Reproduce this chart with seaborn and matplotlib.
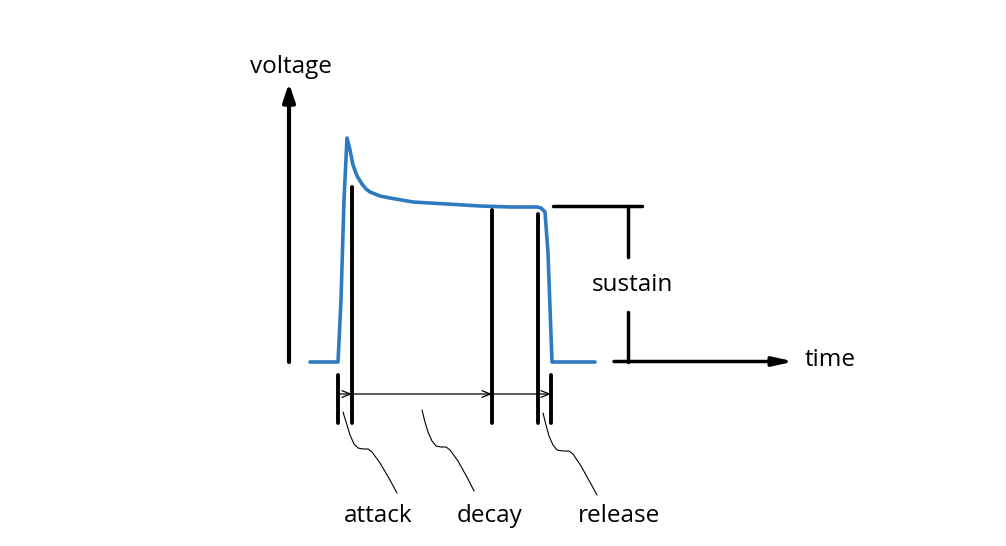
import matplotlib
matplotlib.use("Agg")
import matplotlib.pyplot as plt
import seaborn as sns
import pandas as pd

sns.set_theme(style="white")
plt.rcParams['font.family'] = ['Open Sans', 'DejaVu Sans']

# Envelope curve (pixel-space diagram coordinates)
env_x = [310, 338, 341, 344, 347, 350, 353, 357, 362, 366, 370, 380, 390, 413, 447, 480, 510, 537, 541, 545, 548, 552, 595]
env_y = [362, 362, 300, 200, 138, 150, 165, 176, 184, 189, 192, 196, 198, 202, 204, 206, 207, 207, 208, 212, 253, 362, 362]

# Stage markers
stage_x = [352, 492, 538]
stage_top = [187, 210, 214]
tick_x = [338, 551]
marker_bottom = 423
bracket_y = 394
arrow_targets = [352, 492, 551]

# Squiggle leaders
sq_attack = ([343, 347, 350, 354, 358, 363, 368, 372, 380, 390, 397], [412, 425, 435, 444, 448, 449, 449, 452, 463, 480, 493])
sq_decay = ([422, 425, 428, 432, 436, 441, 446, 450, 458, 468, 474], [410, 422, 432, 441, 446, 447, 447, 450, 461, 479, 491])
sq_release = ([543, 546, 549, 553, 557, 563, 569, 573, 581, 591, 597], [413, 425, 436, 445, 450, 451, 451, 454, 466, 484, 495])

labels = ["attack", "decay", "release"]
label_x = [378, 490, 619]

fig = plt.figure(figsize=(10.06, 5.46), dpi=100)
ax = fig.add_axes([0, 0, 1, 1])
ax.set_xlim(0, 1006)
ax.set_ylim(546, 0)
ax.axis("off")

df = pd.DataFrame({"x": env_x, "y": env_y})
sns.lineplot(data=df, x="x", y="y", ax=ax, color="#2e7abf", lw=2.6, sort=False)

# voltage axis
ax.annotate("", xy=(289, 83), xytext=(289, 362),
            arrowprops=dict(arrowstyle="-|>,head_length=0.9,head_width=0.3", lw=3, color="black", shrinkA=0, shrinkB=0))
ax.text(291, 67, "voltage", ha="center", va="center", fontsize=17.5, color="black")

# time axis
ax.annotate("", xy=(794, 361.5), xytext=(614, 361.5),
            arrowprops=dict(arrowstyle="-|>,head_length=1.0,head_width=0.22", lw=2.5, color="black", shrinkA=0, shrinkB=0))
ax.text(805, 360, "time", ha="left", va="center", fontsize=17.5, color="black")

# sustain bracket
ax.plot([553, 642], [206, 206], color="black", lw=2.5)
ax.plot([628, 628], [206, 257], color="black", lw=2.5)
ax.plot([628, 628], [312, 362], color="black", lw=2.5)
ax.text(632, 285, "sustain", ha="center", va="center", fontsize=17.5, color="black")

# stage vertical lines
for x, t in zip(stage_x, stage_top):
    ax.plot([x, x], [t, marker_bottom], color="black", lw=2.8)
for x in tick_x:
    ax.plot([x, x], [375, marker_bottom], color="black", lw=2.8)

# bracket arrows
starts = [338, 352, 492]
for s, e in zip(starts, arrow_targets):
    ax.annotate("", xy=(e, bracket_y), xytext=(s, bracket_y),
                arrowprops=dict(arrowstyle="->,head_length=0.5,head_width=0.2", lw=0.9, color="black", shrinkA=0, shrinkB=0))

for xs, ys in (sq_attack, sq_decay, sq_release):
    ax.plot(xs, ys, color="black", lw=0.8)

for lab, x in zip(labels, label_x):
    ax.text(x, 516, lab, ha="center", va="center", fontsize=17.5, color="black")

fig.savefig("out.png", dpi=100, facecolor="white")
